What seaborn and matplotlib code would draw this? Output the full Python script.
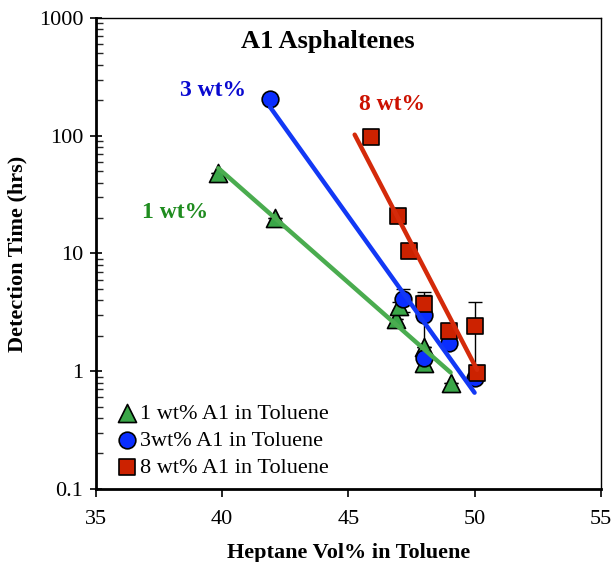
import numpy as np
import pandas as pd
import seaborn as sns
import matplotlib.pyplot as plt
from matplotlib.ticker import LogLocator, NullFormatter

sns.set_theme(style="ticks")
plt.rcParams['font.family'] = ['Liberation Serif', 'DejaVu Serif']
plt.rcParams['text.color'] = 'black'
plt.rcParams['axes.labelcolor'] = 'black'

# Heptane vol% in toluene vs detection time (hrs)
x_1wt = [39.85, 42.1, 46.9, 47.0, 48.0, 48.0, 49.05]
t_1wt = [48, 20, 2.8, 3.6, 1.6, 1.17, 0.79]
err_1wt = [0, 0, 0, 0.3, 0, 0, 0]

x_3wt = [41.9, 47.15, 48.0, 48.0, 48.98, 50.0]
t_3wt = [204, 4.1, 3.0, 1.29, 1.73, 0.87]
err_3wt = [0, 0.9, 1.4, 0, 0, 0]

x_8wt = [45.9, 46.96, 47.4, 47.99, 48.98, 50.0, 50.1]
t_8wt = [97, 20.7, 10.4, 3.7, 2.18, 2.4, 0.96]
err_8wt = [0, 0, 0, 1.0, 0.2, 1.45, 0]

# x-span of each exponential trend line
fit_span_1wt = [39.85, 49.05]
fit_span_3wt = [41.9, 50.0]
fit_span_8wt = [45.25, 50.1]

series = [
    ("1 wt% A1 in Toluene", x_1wt, t_1wt, err_1wt, fit_span_1wt, "^", "#3aa648", "#4aac4f", 13),
    ("3wt% A1 in Toluene", x_3wt, t_3wt, err_3wt, fit_span_3wt, "o", "#0a2eff", "#1238f5", 12),
    ("8 wt% A1 in Toluene", x_8wt, t_8wt, err_8wt, fit_span_8wt, "s", "#cc2200", "#d42a0a", 12),
]

fig = plt.figure(figsize=(6.13, 5.62), dpi=100)
ax = fig.add_axes([0.1566, 0.130, 0.8234, 0.838])

for label, xs, ts, es, span, mk, fc, lc, ms in series:
    ax.errorbar(xs, ts, yerr=es, fmt="none", ecolor="black", elinewidth=1.0,
                capsize=5, capthick=1.0, zorder=2)
    df = pd.DataFrame({"x": xs, "t": ts})
    sns.scatterplot(data=df, x="x", y="t", marker=mk, s=ms ** 2, color=fc,
                    edgecolor="black", linewidth=1.2, ax=ax, label=label, zorder=3)

for label, xs, ts, es, span, mk, fc, lc, ms in series:
    slope, icpt = np.polyfit(xs, np.log10(ts), 1)
    xf = np.linspace(span[0], span[1], 50)
    fit = pd.DataFrame({"x": xf, "t": 10 ** (icpt + slope * xf)})
    sns.lineplot(data=fit, x="x", y="t", color=lc, linewidth=3.2, ax=ax,
                 zorder=4, legend=False)

ax.set_yscale("log")
ax.set_xlim(35, 55)
ax.set_ylim(0.1, 1000)
ax.set_xticks([35, 40, 45, 50, 55])
ax.set_yticks([0.1, 1, 10, 100, 1000])
ax.set_yticklabels(["0.1", "1", "10", "100", "1000"])
ax.yaxis.set_minor_locator(LogLocator(base=10, subs=np.arange(2, 10)))
ax.yaxis.set_minor_formatter(NullFormatter())

ax.tick_params(axis="both", which="major", labelsize=16, colors="black", length=6, width=1.2)
ax.tick_params(axis="y", which="major", direction="inout", length=8, pad=5)
ax.tick_params(axis="y", which="minor", direction="in", length=5, width=1.0)
ax.tick_params(axis="x", which="major", direction="out", pad=9)

for side in ["left", "bottom"]:
    ax.spines[side].set_linewidth(2.0)
    ax.spines[side].set_color("black")
for side in ["top", "right"]:
    ax.spines[side].set_linewidth(1.0)
    ax.spines[side].set_color("black")
    ax.spines[side].set_visible(True)

ax.set_xlabel("Heptane Vol% in Toluene", fontsize=16, fontweight="bold", labelpad=10)
ax.set_ylabel("Detection Time (hrs)", fontsize=16, fontweight="bold", labelpad=8)

ax.text(0.46, 0.95, "A1 Asphaltenes", transform=ax.transAxes, fontsize=19,
        fontweight="bold", ha="center", va="center")
ax.text(38.13, 22.4, "1 wt%", fontsize=17, fontweight="bold", color="#1f8c1f",
        ha="center", va="center")
ax.text(39.63, 243, "3 wt%", fontsize=17, fontweight="bold", color="#0a0ad0",
        ha="center", va="center")
ax.text(46.72, 185, "8 wt%", fontsize=17, fontweight="bold", color="#cc1100",
        ha="center", va="center")

leg = ax.legend(loc="lower left", bbox_to_anchor=(0.002, -0.005), frameon=False,
                fontsize=16, handletextpad=-0.15, labelspacing=0.3,
                borderaxespad=0.2, handlelength=1.5)

fig.savefig("out.png", dpi=100)
